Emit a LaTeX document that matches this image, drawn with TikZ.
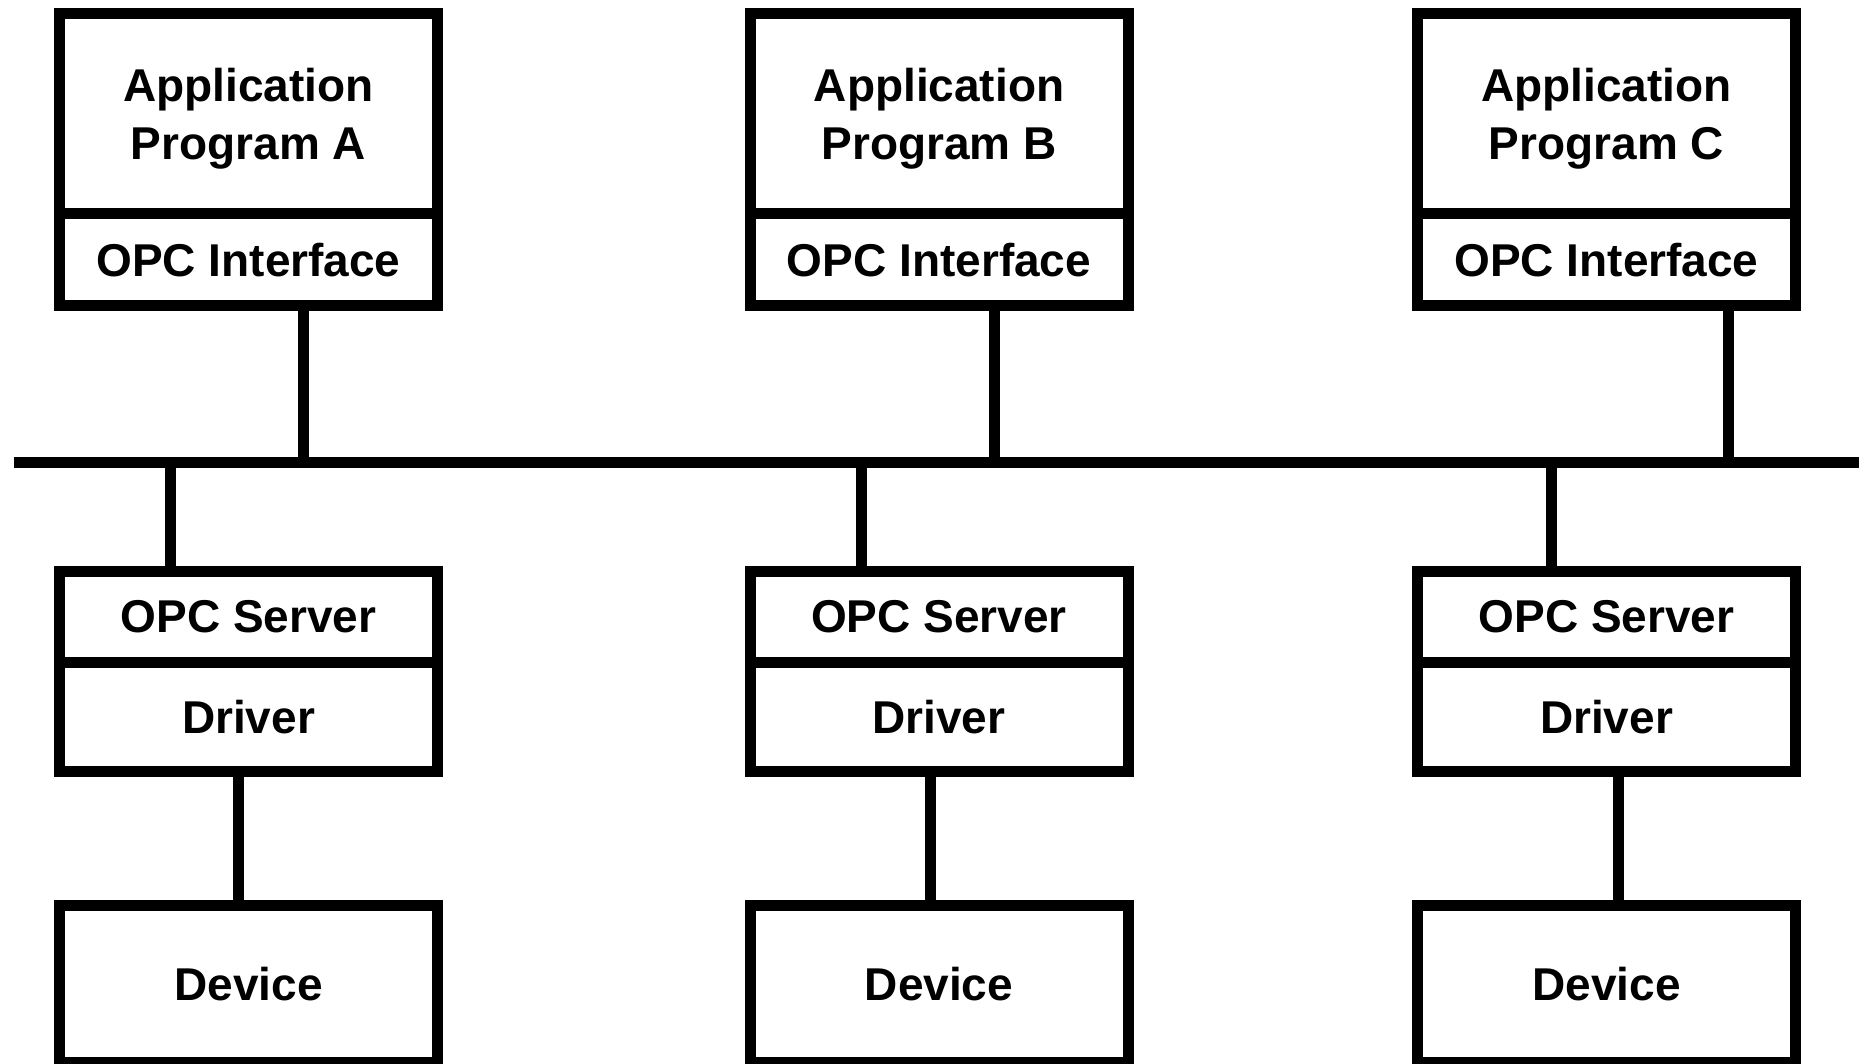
\documentclass[tikz,border=0pt]{standalone}
\usepackage{fontspec}
\setmainfont{Liberation Sans}
\begin{document}
\begin{tikzpicture}[x=1pt,y=-1pt,
  layer/.style={draw=black, line width=11pt, inner sep=0pt, minimum width=378pt,
    align=center, text depth=0pt, font=\bfseries\fontsize{46}{58}\selectfont},
  wire/.style={draw=black, line width=11pt, line cap=butt}]
\useasboundingbox (0,0) rectangle (1859,1064);
\fill[white] (0,0) rectangle (1859,1064);

% client side: application programs with their OPC interface
\foreach \c/\x/\n in {A/248.5/A, B/939/B, C/1606.5/C}{
  \node[layer, minimum height=200.5pt] (app\c) at (\x,113.75) {Application\\Program \n};
  \node[layer, minimum height=91.5pt] (iface\c) at (\x,259.75) {OPC Interface};
  % server side: OPC server, driver and the device it talks to
  \node[layer, minimum height=90.5pt] (srv\c) at (\x,616.75) {OPC Server};
  \node[layer, minimum height=109.5pt] (drv\c) at (\x,716.75) {Driver};
  \node[layer, minimum height=157pt] (dev\c) at (\x,984) {Device};
}

% the shared bus
\coordinate (busL) at (14,462);
\coordinate (busR) at (1870,462);
\draw[wire] (busL) -- (busR);

% taps from the bus up to each interface
\coordinate (tapA) at (303,462);
\coordinate (tapB) at (994,462);
\coordinate (tapC) at (1728,462);
% drops from the bus down to each server
\coordinate (dropA) at (170,462);
\coordinate (dropB) at (861,462);
\coordinate (dropC) at (1551,462);
% links from each driver to its device
\coordinate (linkA) at (238,840);
\coordinate (linkB) at (930,840);
\coordinate (linkC) at (1618,840);

\foreach \c in {A,B,C}{
  \draw[wire] (tap\c) -- (tap\c |- iface\c.south);
  \draw[wire] (drop\c) -- (drop\c |- srv\c.north);
  \draw[wire] (link\c |- drv\c.south) -- (link\c |- dev\c.north);
}
\end{tikzpicture}
\end{document}
